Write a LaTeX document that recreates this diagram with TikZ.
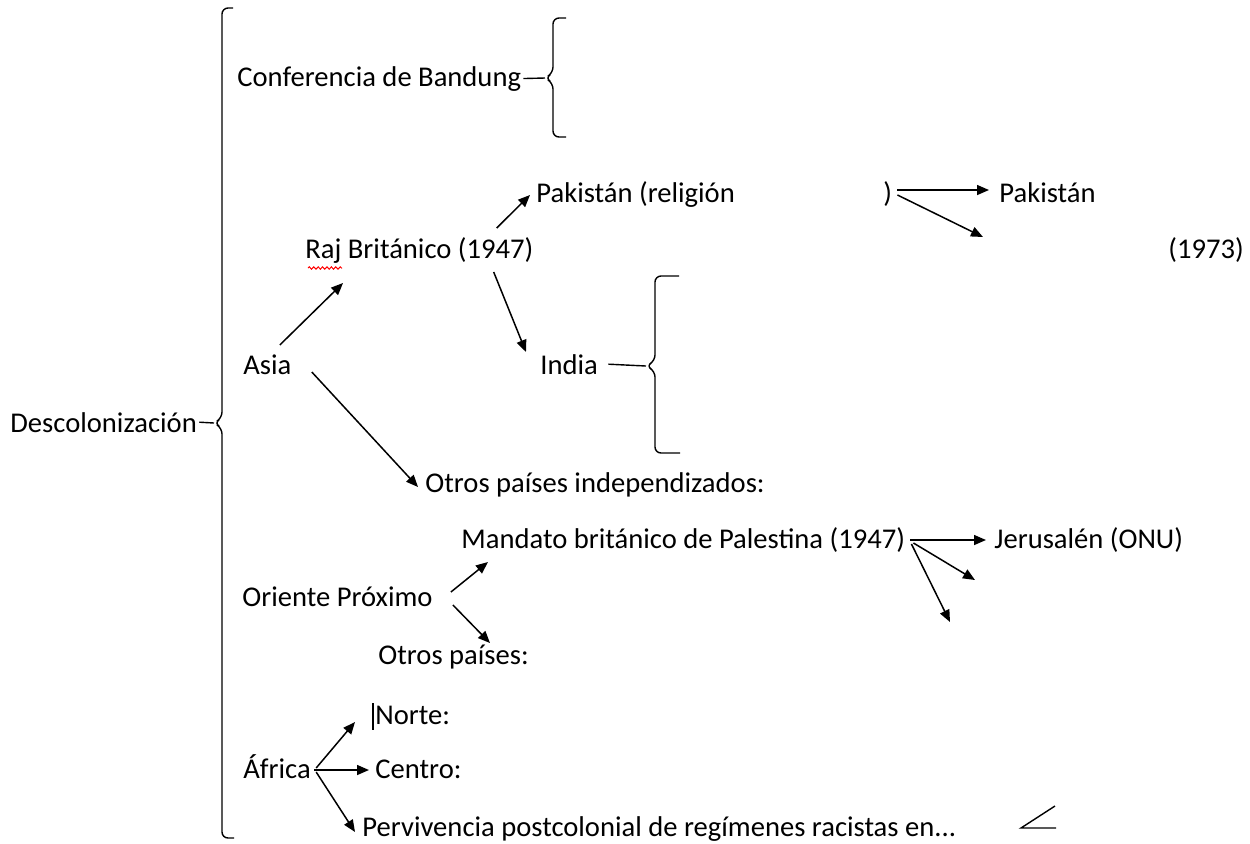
\documentclass[tikz,border=0pt]{standalone}
\usepackage{fontspec}
\setmainfont{Carlito}
\usetikzlibrary{calc,arrows.meta,decorations.pathmorphing,positioning}

\begin{document}
\begin{tikzpicture}[x=0.5pt,y=-0.5pt]

    \tikzstyle{every node}=[inner sep=0pt, anchor=base west, font=\fontsize{14.3pt}{17pt}\selectfont]
    \tikzstyle{arr}=[-{Triangle[length=6pt,width=5pt]}, line width=0.75pt]
    \tikzstyle{brace}=[line width=0.7pt, rounded corners=3pt]

    \useasboundingbox (0,0) rectangle (1250,843);

    \node (desc) at (10,432) {Descolonización};
    \node (bandung) at (237,86) {Conferencia de Bandung};
    \node (pakrel) at (536,202) {Pakistán (religión};
    \node (paren) at (883,202) {)};
    \node (pak) at (999,202) {Pakistán};
    \node (raj) at (305,258) {Raj Británico (1947)};
    \node (y1973) at (1168,258) {(1973)};
    \node (asia) at (243,374) {Asia};
    \node (india) at (540,374) {India};
    \node (otrosind) at (425,492) {Otros países independizados:};
    \node (mandato) at (461,548) {Mandato británico de Palestina (1947)};
    \node (jer) at (994,548) {Jerusalén (ONU)};
    \node (oriente) at (242,606) {Oriente Próximo};
    \node (otros) at (378,664) {Otros países:};
    \node (norte) at (375,724) {Norte:};
    \node (africa) at (243,778) {África};
    \node (centro) at (375,778) {Centro:};
    \node (perv) at (362,836) {Pervivencia postcolonial de regímenes racistas en...};

    % braces
    \coordinate (desctip) at (214,423);
    \coordinate (bandtip) at (545,78);
    \coordinate (indiatip) at (646,366);
    \draw[brace] (233,8) -- (222,8) -- (222,418) -- (desctip) -- (222,428) -- (222,838) -- (234,838);
    \draw[line width=0.7pt] ($(desc.east)+(2,0)$) -- (desctip);
    \draw[brace] (566,18) -- (553,18) -- (553,73) -- (bandtip) -- (553,83) -- (553,137) -- (566,137);
    \draw[line width=0.7pt] ($(bandung.east)+(2,0)$) -- (bandtip);
    \draw[brace] (679,276) -- (655,276) -- (655,361) -- (indiatip) -- (655,371) -- (655,453) -- (680,453);
    \draw[line width=0.7pt] ($(india.east)+(10,0)$) -- (indiatip);

    % arrows
    \draw[arr] ($(raj.base east)+(-37,-30)$) -- ($(pakrel.base west)+(-6,-7)$);
    \draw[arr] ($(raj.base east)+(-40,14)$) -- ($(india.base west)+(-14,-22)$);
    \draw[arr] ($(asia.base east)+(-12,-29)$) -- ($(raj.base west)+(38,25)$);
    \draw[arr] ($(asia.base east)+(20,-2)$) -- ($(otrosind.base west)+(-7,-5)$);

    \coordinate (pakdown) at (983,237);
    \draw[arr] ($(paren.base east)+(5,-12)$) -- ($(pak.base west)+(-10,-12)$);
    \draw[arr] ($(paren.base east)+(5,-7)$) -- (pakdown);

    \coordinate (palA) at (975,580);
    \coordinate (palB) at (950,622);
    \draw[arr] ($(mandato.base east)+(5,-8)$) -- ($(jer.base west)+(-8,-8)$);
    \draw[arr] ($(mandato.base east)+(8,-5)$) -- (palA);
    \draw[arr] ($(mandato.base east)+(6,-4)$) -- (palB);

    \draw[arr] ($(oriente.base east)+(18,-14)$) -- ($(mandato.base west)+(27,14)$);
    \draw[arr] ($(oriente.base east)+(20,-1)$) -- ($(otros.base west)+(112,-21)$);

    \draw[arr] ($(africa.base east)+(5,-10)$) -- ($(norte.base west)+(-20,-2)$);
    \draw[arr] ($(africa.base east)+(3,-8)$) -- ($(centro.base west)+(-6,-8)$);
    \draw[arr] ($(africa.base east)+(5,-6)$) -- ($(perv.base west)+(-7,-4)$);

    % marks
    \draw[red, line width=0.5pt, decorate, decoration={snake, amplitude=0.6pt, segment length=2.2pt}] ($(raj.base west)+(3,10)$) -- ++(34,0);
    \draw[line width=0.6pt] ($(norte.base west)+(-2,-21)$) -- ++(0,27);
    \draw[line width=0.7pt] (1055,806) -- (1021,828) -- (1056,828);

\end{tikzpicture}
\end{document}
